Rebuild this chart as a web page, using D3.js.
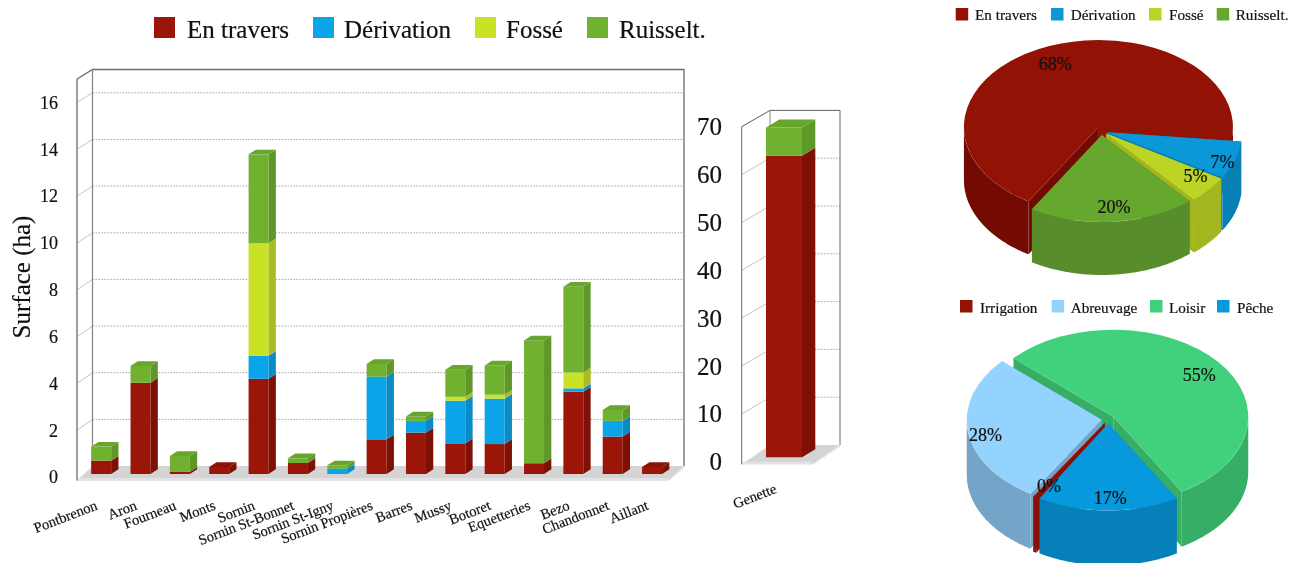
<!DOCTYPE html>
<html><head><meta charset="utf-8">
<script src="https://cdn.jsdelivr.net/npm/d3@7"></script>
<style>
html,body{margin:0;padding:0;background:#fff;overflow:hidden}
svg{filter:blur(0.4px)}
text{font-family:"Liberation Serif",serif;fill:#111;stroke:#111;stroke-width:.2px}
</style></head><body>
<svg id="c" width="1294" height="563"></svg>
<script>
const categories=["Pontbrenon","Aron","Fourneau","Monts","Sornin","Sornin St-Bonnet","Sornin St-Igny","Sornin Propières","Barres","Mussy","Botoret","Equetteries","Bezo","Chandonnet","Aillant"];
const enTravers=[0.57,3.9,0.09,0.3,4.07,0.47,0,1.48,1.77,1.31,1.28,0.46,3.52,1.6,0.3];
const derivation=[0,0,0,0,0.98,0,0.23,2.68,0.5,1.82,1.94,0,0.14,0.67,0];
const fosse=[0,0,0,0,4.81,0,0,0,0,0.17,0.17,0,0.68,0,0];
const ruisselt=[0.6,0.72,0.68,0,3.8,0.2,0.14,0.54,0.19,1.16,1.25,5.25,3.66,0.47,0];
const seriesNames=["En travers","Dérivation","Fossé","Ruisselt."];
const leftTicks=[0,2,4,6,8,10,12,14,16];
const genetteCat=["Genette"];
const genetteEnTravers=[63.1];
const genetteRuisselt=[5.9];
const rightTicks=[0,10,20,30,40,50,60,70];
const pie1Names=seriesNames;
const pie1Values=[68,7,5,20];
const pie2Names=["Irrigation","Abreuvage","Loisir","Pêche"];
const pie2Values=[0.4,28,55,17];

const svg=d3.select("#c");
const col={ "En travers":{f:"#9b1608",s:"#7e1005",t:"#8d1206"},
 "Dérivation":{f:"#0ca4e8",s:"#0a8bc6",t:"#0a94d2"},
 "Fossé":{f:"#c9e226",s:"#aabc22",t:"#b8d024"},
 "Ruisselt.":{f:"#70b22f",s:"#5f9728",t:"#66a62c"}};
const pieCol={ "En travers":{t:"#931206",w:"#740b03"},
 "Dérivation":{t:"#0a98d8",w:"#0880b6"},
 "Fossé":{t:"#bcd425",w:"#a3b61f"},
 "Ruisselt.":{t:"#66a82e",w:"#578d2a"},
 "Irrigation":{t:"#931206",w:"#8a1005"},
 "Abreuvage":{t:"#95d3ff",w:"#74a5c8"},
 "Loisir":{t:"#41d07c",w:"#37ae65"},
 "Pêche":{t:"#0899dc",w:"#0680b8"}};
const poly=d3.line();
const closed=p=>poly(p)+"Z";

function chart3d(o){
  const g=svg.append("g");
  const yF=d3.scaleLinear().domain(o.domain).range(o.frontRange);
  const yB=d3.scaleLinear().domain(o.domain).range(o.backRange);
  const yBar=d3.scaleLinear().domain(o.domain).range(o.barRange);
  const x=d3.scaleBand().domain(o.cats).range(o.bandRange).paddingInner(o.pi).paddingOuter(o.po);
  const top=o.domain[1];
  // floor
  g.append("path").attr("d",closed([[o.xF,o.floorY],[o.xB,yB(0)],[o.xR,yB(0)],[o.xFR,o.floorY]])).attr("fill","#d4d4d4");
  g.append("path").attr("d",closed([[o.xF,o.floorY],[o.xF+2,o.floorY-2.5],[o.xFR,o.floorY-2.5],[o.xFR,o.floorY]])).attr("fill","#e2e2e2");
  g.append("path").attr("d",closed([[o.xFR,o.floorY],[o.xR,yB(0)],[o.xR,yB(0)+2],[o.xFR+1,o.floorY]])).attr("fill","#e6e6e6");
  // gridlines
  o.ticks.filter(t=>t>0).forEach(t=>{
    g.append("line").attr("x1",o.xB).attr("x2",o.xR).attr("y1",yB(t)).attr("y2",yB(t))
     .attr("stroke","#a4a4a4").attr("stroke-width",1).attr("stroke-dasharray","1.5 1.5");
    g.append("line").attr("x1",o.xF).attr("x2",o.xB).attr("y1",yF(t)).attr("y2",yB(t))
     .attr("stroke","#c4c4c4").attr("stroke-width",1);
  });
  // walls
  const frame=[[o.xF,o.floorY],[o.xF,yF(top)],[o.xB,yB(top)],[o.xR,yB(top)],[o.xR,yB(0)]];
  g.append("path").attr("d",poly(frame)).attr("fill","none").attr("stroke","#6a6a6a").attr("stroke-width",o.frameW);
  g.append("line").attr("x1",o.xB).attr("x2",o.xB).attr("y1",yB(top)).attr("y2",yB(0)).attr("stroke","#8a8a8a").attr("stroke-width",o.frameW);
  // stacked bars
  const stack=d3.stack().keys(o.names).value((d,k)=>d[k]);
  const rows=o.cats.map((c,i)=>{const r={cat:c};o.names.forEach((n,j)=>r[n]=o.vals[j][i]);return r;});
  const layers=stack(rows);
  const w=x.bandwidth();
  rows.forEach((r,i)=>{
    const X=x(r.cat);
    let last=null;
    layers.forEach(l=>{
      const [a,b]=l[i]; if(b-a<=0)return;
      last={l,a,b};
      const c=col[l.key];
      g.append("rect").attr("x",X).attr("width",w).attr("y",yBar(b)).attr("height",yBar(a)-yBar(b)).attr("fill",c.f);
      g.append("path").attr("d",closed([[X+w,yBar(a)],[X+w+o.dx,yBar(a)-o.dy],[X+w+o.dx,yBar(b)-o.dy],[X+w,yBar(b)]])).attr("fill",c.s);
    });
    if(last){
      const c=col[last.l.key],yt=yBar(last.b);
      g.append("path").attr("d",closed([[X,yt],[X+o.dx,yt-o.dy],[X+w+o.dx,yt-o.dy],[X+w,yt]])).attr("fill",c.t);
    }
  });
  // y axis labels
  const ax=g.append("g").attr("transform",`translate(${o.labelX},0)`)
    .call(d3.axisLeft(yF).tickValues(o.ticks).tickSize(0).tickPadding(0));
  ax.select(".domain").remove();
  ax.selectAll("text").style("font-family",'"Liberation Serif",serif').style("font-size",o.tickFont+"px").attr("fill","#111");
  // category labels
  const ca=g.append("g").attr("transform",`translate(0,${o.catY})`)
    .call(d3.axisBottom(x).tickSize(0).tickPadding(0));
  ca.select(".domain").remove();
  ca.selectAll("text").style("font-family",'"Liberation Serif",serif').style("font-size",o.catFont+"px").attr("fill","#111")
    .attr("text-anchor","end").attr("dy",0).attr("y",0).attr("x",o.catDx).attr("transform","rotate(-21)");
}

chart3d({cats:categories,names:seriesNames,vals:[enTravers,derivation,fosse,ruisselt],
  domain:[0,17],frontRange:[477.2,79],floorY:480.6,backRange:[466,69.5],barRange:[474,76.2],
  bandRange:[81.5,671.75],pi:0.492,po:0.246,xF:77,xB:92.5,xR:684,xFR:668.3,
  dx:7.3,dy:4.7,ticks:leftTicks,labelX:58,tickFont:18,frameW:1.3,catY:508,catDx:-3,catFont:14.5});
chart3d({cats:genetteCat,names:["En travers","Ruisselt."],vals:[genetteEnTravers,genetteRuisselt],
  domain:[0,70],frontRange:[461.8,126.7],floorY:464.3,backRange:[445,110.4],barRange:[457.3,122.7],
  bandRange:[748,820],pi:0.5,po:0.25,xF:741.7,xB:770,xR:840,xFR:812.7,
  dx:13.3,dy:8,ticks:rightTicks,labelX:722,tickFont:25,frameW:1,catY:490,catDx:-7,catFont:14.5});

svg.append("text").attr("transform","translate(30,277) rotate(-90)").attr("text-anchor","middle")
  .attr("font-size",25).text("Surface (ha)");

function legend(names,colors,swX,txX,sw,base,font,swY){
  names.forEach((n,i)=>{
    svg.append("rect").attr("x",swX[i]).attr("y",swY).attr("width",sw).attr("height",sw).attr("fill",colors[i]);
    svg.append("text").attr("x",txX[i]).attr("y",base).attr("font-size",font).text(n);
  });
}
legend(seriesNames,seriesNames.map(n=>col[n].f),[154,313,475,587],[187,344,506,619],21,38,25,17);
legend(pie1Names,pie1Names.map(n=>pieCol[n].t),[955.7,1051,1149,1216.7],[975,1070.7,1169,1235.7],12.5,20,15.2,8);
legend(pie2Names,pie2Names.map(n=>pieCol[n].t),[960,1051.7,1150,1217],[980,1070.7,1169,1237],12.5,313,15.2,300);

function pie3d(names,values,cx,cy,rx,ry,depth,explode,startDeg,labelR,labelShift,flushEnd){
  const rad=Math.PI/180;
  const s=startDeg*rad;
  const slices=d3.pie().sort(null).startAngle(s).endAngle(s+2*Math.PI)(values);
  const total=d3.sum(values);
  const arc=d3.arc().innerRadius(0).outerRadius(rx);
  const g=svg.append("g");
  const items=slices.map((d,i)=>{
    const mid=(d.startAngle+d.endAngle)/2;
    return {d,name:names[i],mid,val:values[i],shift:labelShift[i],
      ax:cx+explode*Math.sin(mid),ay:cy-explode*Math.cos(mid)*ry/rx};
  }).sort((a,b)=>Math.cos(b.mid)-Math.cos(a.mid));
  items.forEach(it=>{
    const c=pieCol[it.name];
    const pt=(a,dz=0)=>[it.ax+rx*Math.sin(a),it.ay-ry*Math.cos(a)+dz];
    const flush=flushEnd===it.name;
    // cut faces
    [it.d.startAngle,it.d.endAngle].forEach((a,k)=>{
      const e=pt(a);
      const same=k===1&&flush;
      g.append("path").attr("d",closed([[it.ax,it.ay],e,[e[0],e[1]+depth],[it.ax,it.ay+depth]]))
       .attr("fill",same?c.t:c.w).attr("stroke",same?c.t:"none").attr("stroke-width",same?1.5:0);
    });
    // outer wall, front half only
    const n=Math.max(2,Math.ceil((it.d.endAngle-it.d.startAngle)/rad*2));
    const as=d3.range(n+1).map(k=>it.d.startAngle+(it.d.endAngle-it.d.startAngle)*k/n);
    let run=[];const runs=[];
    as.forEach(a=>{ if(Math.cos(a)<=0.001){run.push(a);} else if(run.length){runs.push(run);run=[];} });
    if(run.length)runs.push(run);
    runs.forEach(r=>{
      const p=r.map(a=>pt(a)).concat(r.slice().reverse().map(a=>pt(a,depth)));
      g.append("path").attr("d",closed(p)).attr("fill",c.w);
    });
    // top
    g.append("path").attr("d",arc(it.d)).attr("transform",`translate(${it.ax},${it.ay}) scale(1,${ry/rx})`).attr("fill",c.t);
  });
  items.forEach(it=>{
    g.append("text").attr("x",it.ax+labelR*rx*Math.sin(it.mid)+it.shift[0]).attr("y",it.ay-labelR*ry*Math.cos(it.mid)+6+it.shift[1])
      .attr("text-anchor","middle").attr("font-size",18).text(Math.round(it.val/total*100)+"%");
  });
}
pie3d(pie1Names,pie1Values,1101.3,130.8,134.5,87,53,6.5,211.3,0.84,[[7,2],[8,6],[3,-5],[3,-1]],"En travers");
pie3d(pie2Names,pie2Values,1108.2,419.3,135,87,55,6.5,210.5,0.84,[[3,1],[-4,5],[-2,4],[2,1]],null);
</script></body></html>
